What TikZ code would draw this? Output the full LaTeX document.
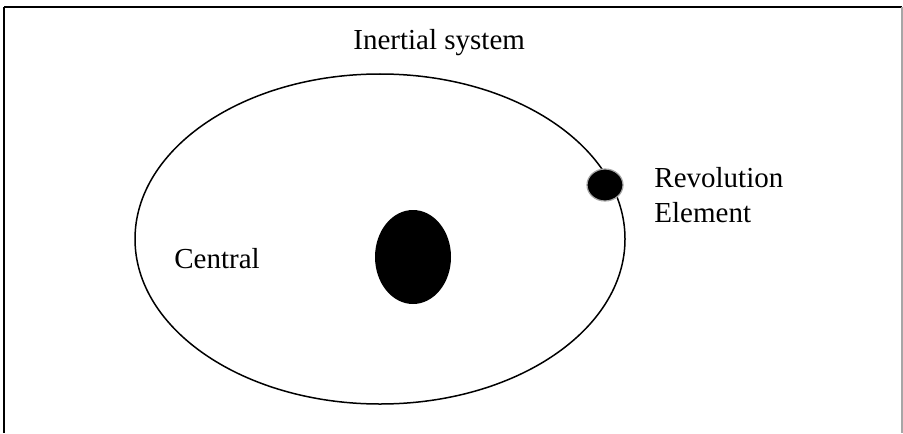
\documentclass[tikz,border=0pt]{standalone}
\usepackage{fontspec}
\setmainfont{Liberation Serif}
\usetikzlibrary{shapes.geometric}

\begin{document}
\begin{tikzpicture}[x=0.5pt,y=-0.5pt,
  lbl/.style={anchor=base west,inner sep=0pt,font=\fontsize{14.5}{17.5}\selectfont,align=left},
  body/.style={ellipse,fill=black,inner sep=0pt}]
  \useasboundingbox (0,0) rectangle (903,433);
  % frame
  \draw[line width=1.1pt] (4,7) -- (902,7);
  \draw[line width=0.8pt] (4,7) -- (4,433);
  \draw[gray!70,line width=0.6pt] (902,7) -- (902,433);
  % orbit
  \draw[line width=0.75pt] (380,239) ellipse [x radius=122.5pt,y radius=82.5pt];
  \node[body,minimum width=38pt,minimum height=47pt] (c) at (413,257) {};
  \node[body,draw=gray!70,line width=0.6pt,minimum width=18pt,minimum height=16pt] (e) at (605,185) {};
  \node[lbl] (t) at (353,50) {Inertial system};
  \node[lbl] (cl) at (174,268) {Central};
  \node[lbl] (el) at (654,222) {Revolution\\Element};
\end{tikzpicture}
\end{document}
